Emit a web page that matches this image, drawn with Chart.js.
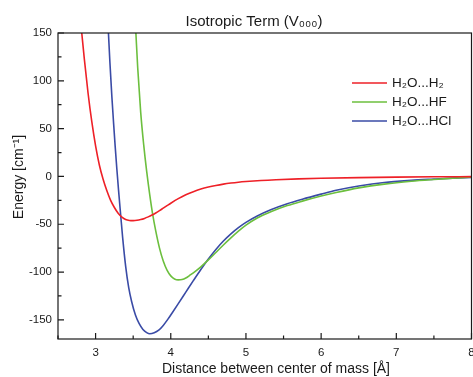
<!DOCTYPE html>
<html>
<head>
<meta charset="utf-8">
<script src="https://cdn.jsdelivr.net/npm/chart.js@4.4.0/dist/chart.umd.min.js"></script>
<style>
  html, body { margin: 0; padding: 0; background: #fff; }
  #wrap { width: 473px; height: 377px; }
</style>
</head>
<body>
<div id="wrap"><canvas id="graph"></canvas></div>
<script>
// values
const h2Dist = [2.816, 2.85, 2.90, 2.95, 3.00, 3.05, 3.10, 3.15, 3.20, 3.25, 3.30, 3.35, 3.40, 3.45,
  3.50, 3.55, 3.60, 3.65, 3.70, 3.75, 3.80, 3.85, 3.90, 3.95, 4.00, 4.10, 4.20, 4.30, 4.40, 4.50,
  4.60, 4.70, 4.80, 4.90, 5.00, 5.20, 5.40, 5.70, 6.00, 6.50, 7.00, 7.50, 8.00];
const h2Energy = [150, 123, 87, 57, 32, 12, -3, -15, -25, -32.5, -38.5, -42.5, -45, -46,
  -46.2, -45.9, -45.1, -43.9, -42.3, -40.4, -38.2, -35.8, -33.2, -30.6, -28, -23.2, -19.2, -15.9, -13.2, -11.1,
  -9.4, -8, -6.9, -6, -5.3, -4.2, -3.4, -2.5, -1.9, -1.2, -0.7, -0.4, -0.2];

const hfDist = [3.536, 3.56, 3.60, 3.64, 3.68, 3.72, 3.76, 3.80, 3.85, 3.90, 3.95, 4.00, 4.05,
  4.10, 4.15, 4.20, 4.26, 4.33, 4.40, 4.50, 4.60, 4.70, 4.80, 4.90, 5.00, 5.15, 5.33, 5.55,
  5.75, 6.00, 6.20, 6.50, 6.84, 7.20, 7.50, 7.75, 8.00];
const hfEnergy = [150, 114, 67, 33, 5, -19, -40, -57, -75, -88.5, -98, -104, -107.2,
  -108.2, -107.8, -106.2, -103, -99, -94.5, -87.3, -79.5, -71.7, -64.3, -57.3, -51, -43.5, -37, -30.5,
  -25.8, -20.5, -16.8, -12, -8, -5, -3.2, -1.9, -0.6];

const hclDist = [3.171, 3.19, 3.216, 3.24, 3.26, 3.283, 3.305, 3.33, 3.36, 3.40, 3.44, 3.48, 3.53,
  3.58, 3.63, 3.68, 3.72, 3.78, 3.84, 3.90, 3.96, 4.02, 4.10, 4.20, 4.30, 4.40, 4.50, 4.60,
  4.70, 4.80, 4.90, 5.00, 5.15, 5.33, 5.55, 5.75, 6.00, 6.20, 6.50, 6.84, 7.20, 7.50, 7.75, 8.00];
const hclEnergy = [150, 120, 84, 55, 32, 7.5, -14, -37, -64, -94, -116, -131, -145,
  -154, -160, -163.3, -164.5, -163.5, -160.8, -155.8, -149.5, -142.5, -133, -121, -109, -97.3, -86.3, -76.3,
  -67.5, -60, -53.5, -48, -41.3, -34.8, -28.5, -23.8, -18.5, -14.5, -10, -6.3, -4.1, -2.8, -1.8, -1];

const seriesNames = ['H₂O...H₂', 'H₂O...HF', 'H₂O...HCl'];
const seriesColors = ['#ee2027', '#6cbf3e', '#3a4ba6'];
const xTicks = [3, 4, 5, 6, 7, 8];
const yTicks = [-150, -100, -50, 0, 50, 100, 150];

const titleText = 'Isotropic Term (V₀₀₀)';
const xTitle = 'Distance between center of mass [Å]';
const yTitle = 'Energy [cm⁻¹]';

const FONT = '"Liberation Sans", Arial, sans-serif';
const INK = '#1a1a1a';

const pairs = (xs, ys) => xs.map((x, i) => ({ x, y: ys[i] }));
const between = (arr) => arr.slice(1).map((v, i) => (v + arr[i]) / 2);

// inward ticks, frame, titles and legend
const decor = {
  id: 'decor',
  afterDatasetsDraw(chart) {
    const { ctx, chartArea: a, scales: { x, y } } = chart;
    ctx.save();
    ctx.strokeStyle = INK;
    ctx.lineWidth = 1.2;
    ctx.beginPath();
    const xMinor = [xTicks[0] - 0.5, ...between(xTicks)];
    xTicks.forEach((v) => {
      const px = x.getPixelForValue(v);
      ctx.moveTo(px, a.bottom); ctx.lineTo(px, a.bottom - 6);
    });
    xMinor.forEach((v) => {
      const px = x.getPixelForValue(v);
      ctx.moveTo(px, a.bottom); ctx.lineTo(px, a.bottom - 3.5);
    });
    yTicks.forEach((v) => {
      const py = y.getPixelForValue(v);
      ctx.moveTo(a.left, py); ctx.lineTo(a.left + 6, py);
    });
    between(yTicks).forEach((v) => {
      const py = y.getPixelForValue(v);
      ctx.moveTo(a.left, py); ctx.lineTo(a.left + 3.5, py);
    });
    ctx.stroke();
    ctx.strokeRect(a.left, a.top, a.right - a.left, a.bottom - a.top);

    ctx.fillStyle = INK;
    ctx.textBaseline = 'alphabetic';
    ctx.textAlign = 'center';
    ctx.font = `15px ${FONT}`;
    ctx.fillText(titleText, 254, 26);

    ctx.textBaseline = 'middle';
    ctx.font = `14px ${FONT}`;
    ctx.fillText(xTitle, 276, 369);
    ctx.save();
    ctx.translate(19, 177);
    ctx.rotate(-Math.PI / 2);
    ctx.fillText(yTitle, 0, 0);
    ctx.restore();

    // legend
    ctx.textAlign = 'left';
    ctx.font = `13.5px ${FONT}`;
    chart.data.datasets.forEach((ds, i) => {
      const ly = a.top + 50 + i * 19;
      const lx = a.right - 119.5;
      ctx.strokeStyle = ds.borderColor;
      ctx.lineWidth = 1.6;
      ctx.beginPath();
      ctx.moveTo(lx, ly); ctx.lineTo(lx + 35, ly);
      ctx.stroke();
      ctx.fillText(ds.label, lx + 40, ly);
    });
    ctx.restore();
  },
};

const lineSet = (label, data, color) => ({
  label,
  data,
  borderColor: color,
  borderWidth: 1.6,
  pointRadius: 0,
  showLine: true,
  fill: false,
  cubicInterpolationMode: 'monotone',
  clip: 0,
});

const ctx = document.getElementById('graph').getContext('2d');
new Chart(ctx, {
  type: 'scatter',
  data: {
    datasets: [
      lineSet(seriesNames[0], pairs(h2Dist, h2Energy), seriesColors[0]),
      lineSet(seriesNames[1], pairs(hfDist, hfEnergy), seriesColors[1]),
      lineSet(seriesNames[2], pairs(hclDist, hclEnergy), seriesColors[2]),
    ],
  },
  options: {
    responsive: true,
    maintainAspectRatio: false,
    animation: false,
    devicePixelRatio: 1,
    layout: { padding: { top: 33, right: 1.5, left: 0, bottom: 0 } },
    plugins: {
      legend: { display: false },
      tooltip: { enabled: false },
      title: { display: false },
    },
    scales: {
      x: {
        type: 'linear',
        min: 2.5,
        max: 8,
        grid: { display: false, drawTicks: false },
        border: { display: false },
        ticks: { padding: 7, color: INK, font: { family: FONT, size: 11.5 } },
        afterBuildTicks: (s) => { s.ticks = xTicks.map((value) => ({ value })); },
        afterFit: (s) => { s.height = 38; s.paddingLeft = 0; s.paddingRight = 0; },
      },
      y: {
        type: 'linear',
        min: -170,
        max: 150,
        grid: { display: false, drawTicks: false },
        border: { display: false },
        ticks: { padding: 6, color: INK, font: { family: FONT, size: 11.5 } },
        afterBuildTicks: (s) => { s.ticks = yTicks.map((value) => ({ value })); },
        afterFit: (s) => { s.width = 58; s.paddingTop = 0; s.paddingBottom = 0; },
      },
    },
  },
  plugins: [decor],
});
</script>
</body>
</html>
